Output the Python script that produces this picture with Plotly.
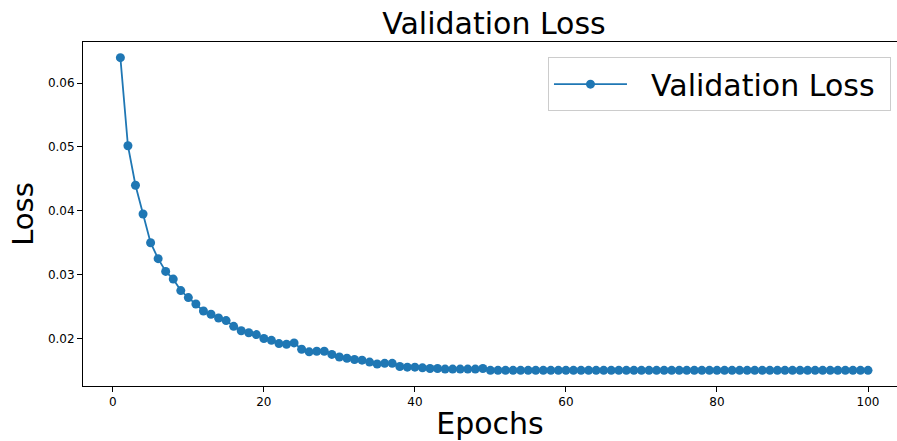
import plotly.graph_objects as go

epochs = list(range(1, 101))
val_loss = [
    0.0640, 0.0502, 0.0440, 0.0395, 0.0350, 0.0325, 0.0305, 0.0293, 0.0275, 0.0264,
    0.0254, 0.0243, 0.0238, 0.0232, 0.0228, 0.0219, 0.0212, 0.0209, 0.0206, 0.0200,
    0.0197, 0.0192, 0.0191, 0.0193, 0.0183, 0.0179, 0.0180, 0.0180, 0.0175, 0.0171,
    0.0169, 0.0167, 0.0166, 0.0163, 0.0160, 0.0161, 0.0161, 0.0156, 0.0155, 0.0155,
    0.0154, 0.0153, 0.0153, 0.0152, 0.0152, 0.0152, 0.0152, 0.0152, 0.0153, 0.0150,
    0.0150, 0.0150, 0.0150, 0.0150, 0.0150, 0.0150, 0.0150, 0.0150, 0.0150, 0.0150,
    0.0150, 0.0150, 0.0150, 0.0150, 0.0150, 0.0150, 0.0150, 0.0150, 0.0150, 0.0150,
    0.0150, 0.0150, 0.0150, 0.0150, 0.0150, 0.0150, 0.0150, 0.0150, 0.0150, 0.0150,
    0.0150, 0.0150, 0.0150, 0.0150, 0.0150, 0.0150, 0.0150, 0.0150, 0.0150, 0.0150,
    0.0150, 0.0150, 0.0150, 0.0150, 0.0150, 0.0150, 0.0150, 0.0150, 0.0150, 0.0150,
]
x_ticks = [0, 20, 40, 60, 80, 100]
y_ticks = [0.02, 0.03, 0.04, 0.05, 0.06]

FONT = "DejaVu Sans"
BLUE = "#1f77b4"

fig = go.Figure()
fig.add_trace(go.Scatter(
    x=epochs, y=val_loss, mode="lines+markers",
    name="\u00a0\u00a0Validation Loss\u00a0",
    line=dict(color=BLUE, width=1.8),
    marker=dict(color=BLUE, size=9),
))

fig.update_layout(
    width=897, height=441,
    margin=dict(l=83, r=0, t=42, b=55),
    paper_bgcolor="white", plot_bgcolor="white",
    font=dict(family=FONT, color="black"),
    title=dict(text="Validation Loss", font=dict(size=30, family=FONT, color="black"),
               x=494 / 897, xref="container", xanchor="center",
               y=1 - 23 / 441, yref="container", yanchor="middle"),
    showlegend=True,
    legend=dict(
        x=0.9926, xanchor="right", y=0.956, yanchor="top",
        bgcolor="rgba(255,255,255,0.8)", bordercolor="#cccccc", borderwidth=1,
        font=dict(size=30, family=FONT, color="black"),
        itemwidth=73,
    ),
    xaxis=dict(
        range=[-3.95, 103.84], tickvals=x_ticks, ticktext=[str(v) for v in x_ticks],
        showgrid=False, zeroline=False,
        showline=True, linecolor="black", linewidth=1, mirror=True,
        ticks="outside", ticklen=5, tickcolor="black", tickwidth=1,
        tickfont=dict(size=12, family=FONT, color="black"),
        title=dict(text="Epochs", font=dict(size=30, family=FONT, color="black"), standoff=8),
    ),
    yaxis=dict(
        range=[0.01255, 0.06645], tickvals=y_ticks, ticktext=["%.2f" % v for v in y_ticks],
        showgrid=False, zeroline=False,
        showline=True, linecolor="black", linewidth=1, mirror=False,
        ticks="outside", ticklen=5, tickcolor="black", tickwidth=1,
        tickfont=dict(size=12, family=FONT, color="black"),
        title=dict(text="Loss", font=dict(size=29, family=FONT, color="black"), standoff=5),
    ),
)

fig.write_html(
    "out.html",
    config={"displayModeBar": False},
    post_script="document.body.style.margin='0';document.body.style.padding='0';",
)
